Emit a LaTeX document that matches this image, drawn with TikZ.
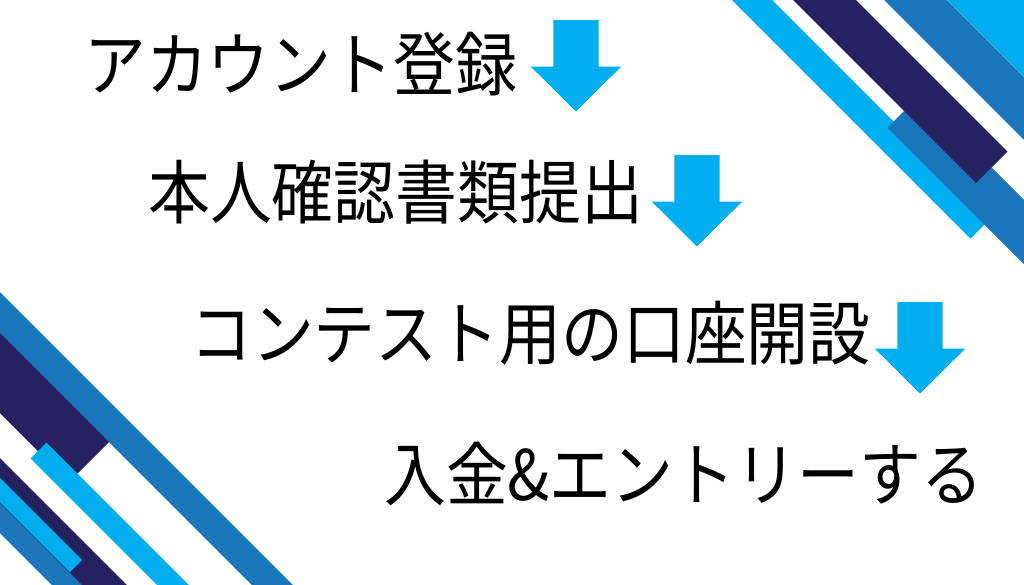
\documentclass[tikz,border=0pt]{standalone}
\usepackage{fontspec}
\newfontfamily\jpfont[FakeStretch=0.89]{Noto Sans CJK JP}
\definecolor{skyblue}{RGB}{0, 174, 239}
\definecolor{midblue}{RGB}{27, 117, 187}
\definecolor{navyblue}{RGB}{38, 34, 98}
\usetikzlibrary{positioning}

\tikzset{
  band/.style={line cap=butt},
  flowtext/.style={anchor=base west, inner sep=0pt, font=\jpfont\fontsize{69.5}{70}\selectfont},
  downarrow/.pic={
    \fill[skyblue] (-22.7,0) -- (22.7,0) -- (22.7,46.5) -- (45.3,46.5) -- (0,91.5)
      -- (-45.3,46.5) -- (-22.7,46.5) -- cycle;
  }
}

\begin{document}
\begin{tikzpicture}[x=1pt, y=-1pt]
  \useasboundingbox (0,0) rectangle (1024,584);
  \fill[white] (0,0) rectangle (1024,584);

  \begin{scope}
    \clip (0,0) rectangle (1024,584);
    % top right stripes
    \draw[band, skyblue, line width=28.3pt] (712,-40) -- (980.5,228.5);
    \draw[band, midblue, line width=45.3pt] (903.5,111.5) -- (1120,328);
    \draw[band, navyblue, line width=44.5pt] (784.5,-40) -- (991.75,167.25);
    \fill[skyblue] (947,0) -- (1100,0) -- (1100,153) -- cycle;
    \draw[band, midblue, line width=44.5pt] (875.5,-40) -- (1115.5,200);
    % bottom left stripes
    \draw[band, midblue, line width=29pt] (-40,272.5) -- (300,612.5);
    \draw[band, navyblue, line width=56.6pt] (-40,333) -- (89,462);
    \draw[band, skyblue, line width=22.6pt] (38.5,450.5) -- (240,652);
    \draw[band, navyblue, line width=33.2pt] (-40,441.5) -- (160,641.5);
    \draw[band, midblue, line width=21.2pt] (-40,478) -- (120,638);
    \draw[band, skyblue, line width=17pt] (-40,450) -- (76,566);
  \end{scope}

  \node[flowtext] (reg) at (84,90.5) {アカウント登録};
  \node[flowtext] (kyc) at (148,218.5) {本人確認書類提出};
  \node[flowtext] (acct) at (190,359.5) {コンテスト用の口座開設};
  \node[flowtext] (entry) at (384,500.5) {入金\&エントリーする};

  \pic (arr1) at (576,20) {downarrow};
  \pic (arr2) at (697,155) {downarrow};
  \pic (arr3) at (920,302) {downarrow};
\end{tikzpicture}
\end{document}
